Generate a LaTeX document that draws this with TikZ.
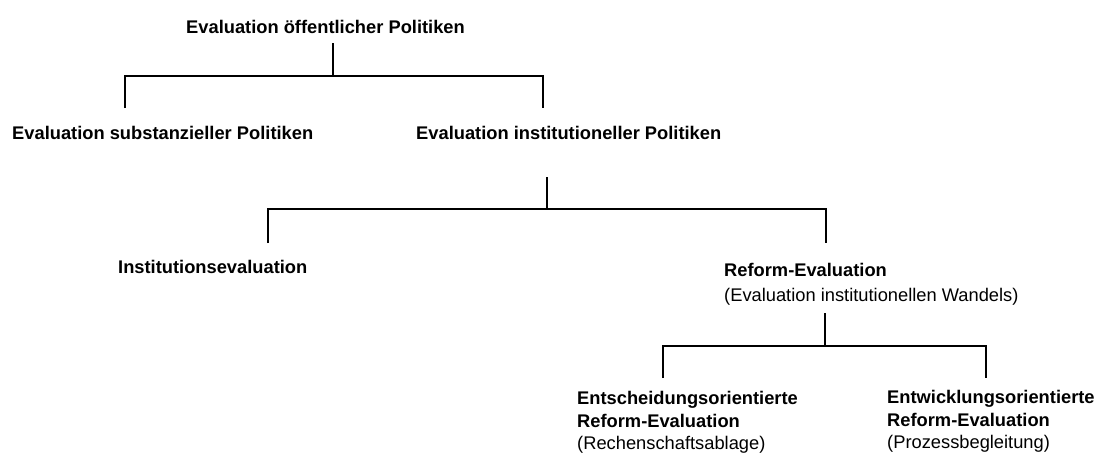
\documentclass[tikz,border=0pt]{standalone}
\usepackage{fontspec}
\setmainfont{Liberation Sans}
\usepackage{tikz}
\usetikzlibrary{positioning}

\begin{document}
\begin{tikzpicture}[
x=1pt, y=-1pt,
txt/.style={anchor=north west, inner sep=0pt, align=left, font=\fontsize{18.3}{22.5}\selectfont},
head/.style={txt, font=\fontsize{18.3}{22.5}\selectfont\bfseries},
tree/.style={draw=black, line width=2pt}
]
\useasboundingbox (0,0) rectangle (1097,453);

\node[head](eval_pub) at (186,20.4){Evaluation öffentlicher Politiken};
\node[head](eval_sub) at (12,126.4){Evaluation substanzieller Politiken};
\node[head](eval_inst) at (416,126.4){Evaluation institutioneller Politiken};
\node[head](inst_eval) at (118,260.4){Institutionsevaluation};
\node[txt](reform_eval) at (724,263.4){\textbf{Reform-Evaluation}\\[2.5pt](Evaluation institutionellen Wandels)};
\node[txt](reform_dec) at (577,391.4){\textbf{Entscheidungsorientierte}\\\textbf{Reform-Evaluation}\\(Rechenschaftsablage)};
\node[txt](reform_dev) at (887,390.4){\textbf{Entwicklungsorientierte}\\\textbf{Reform-Evaluation}\\(Prozessbegleitung)};

\coordinate (pub_out) at (333,43);
\coordinate (pub_fork) at (333,76);
\coordinate (sub_in) at (125,108);
\coordinate (inst_in) at (543,108);
\coordinate (inst_out) at (547,177);
\coordinate (inst_fork) at (547,209);
\coordinate (ie_in) at (268,243);
\coordinate (re_in) at (826,243);
\coordinate (re_out) at (825,313);
\coordinate (re_fork) at (825,346);
\coordinate (dec_in) at (663,378);
\coordinate (dev_in) at (986,378);

\draw[tree] (pub_out) -- (pub_fork);
\draw[tree] (sub_in) |- (pub_fork) -| (inst_in);
\draw[tree] (inst_out) -- (inst_fork);
\draw[tree] (ie_in) |- (inst_fork) -| (re_in);
\draw[tree] (re_out) -- (re_fork);
\draw[tree] (dec_in) |- (re_fork) -| (dev_in);

\end{tikzpicture}
\end{document}
